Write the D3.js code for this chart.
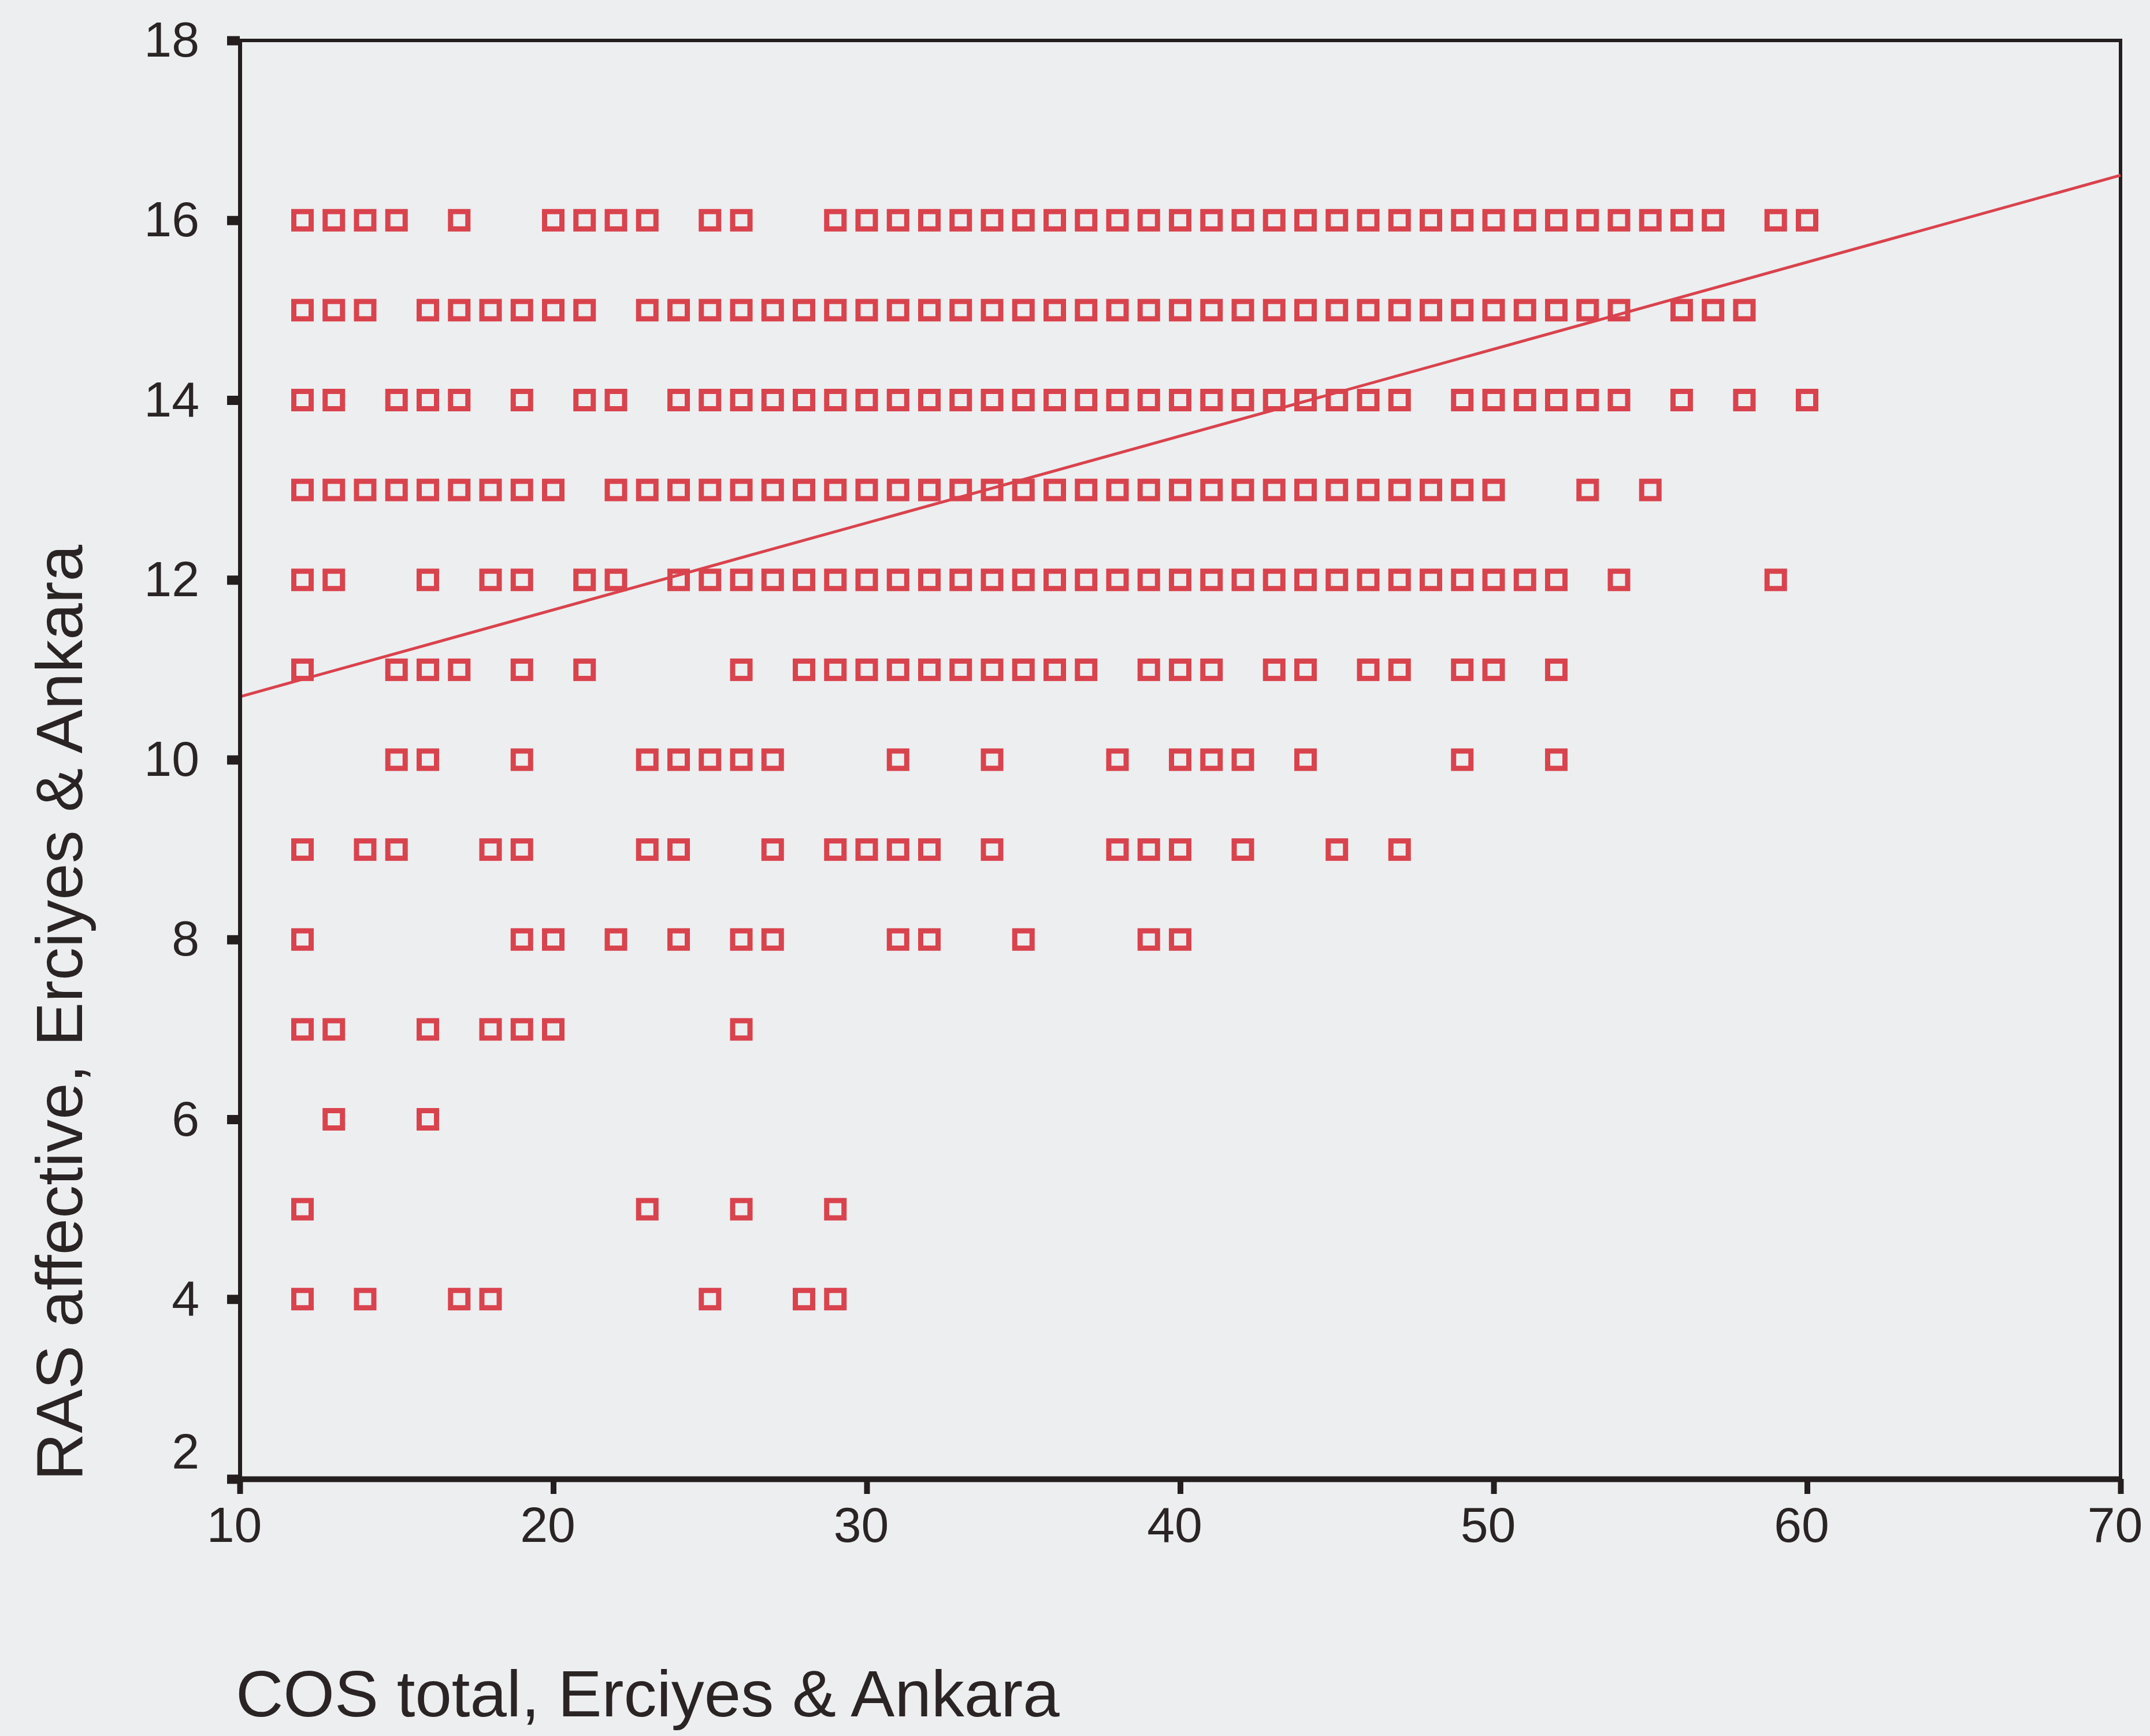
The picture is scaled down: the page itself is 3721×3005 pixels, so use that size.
<!DOCTYPE html>
<html>
<head>
<meta charset="utf-8">
<title>RAS affective by COS total</title>
<script src="https://cdn.jsdelivr.net/npm/d3@7"></script>
<style>
	html, body { margin: 0; padding: 0; background: #edeef0; }
	svg { display: block; }
	text { font-family: "Liberation Sans", Arial, sans-serif; fill: #2a2424; }
</style>
</head>
<body>
<div id="chart"></div>
<script>
	// RAS affective levels (y) and the COS totals (x) seen at each level
	var rasLevels = [16, 15, 14, 13, 12, 11, 10, 9, 8, 7, 6, 5, 4];

	var cosAt16 = [12, 13, 14, 15, 17, 20, 21, 22, 23, 25, 26, 29, 30, 31, 32, 33, 34, 35, 36, 37, 38, 39, 40, 41, 42, 43, 44, 45, 46, 47, 48, 49, 50, 51, 52, 53, 54, 55, 56, 57, 59, 60];
	var cosAt15 = [12, 13, 14, 16, 17, 18, 19, 20, 21, 23, 24, 25, 26, 27, 28, 29, 30, 31, 32, 33, 34, 35, 36, 37, 38, 39, 40, 41, 42, 43, 44, 45, 46, 47, 48, 49, 50, 51, 52, 53, 54, 56, 57, 58];
	var cosAt14 = [12, 13, 15, 16, 17, 19, 21, 22, 24, 25, 26, 27, 28, 29, 30, 31, 32, 33, 34, 35, 36, 37, 38, 39, 40, 41, 42, 43, 44, 45, 46, 47, 49, 50, 51, 52, 53, 54, 56, 58, 60];
	var cosAt13 = [12, 13, 14, 15, 16, 17, 18, 19, 20, 22, 23, 24, 25, 26, 27, 28, 29, 30, 31, 32, 33, 34, 35, 36, 37, 38, 39, 40, 41, 42, 43, 44, 45, 46, 47, 48, 49, 50, 53, 55];
	var cosAt12 = [12, 13, 16, 18, 19, 21, 22, 24, 25, 26, 27, 28, 29, 30, 31, 32, 33, 34, 35, 36, 37, 38, 39, 40, 41, 42, 43, 44, 45, 46, 47, 48, 49, 50, 51, 52, 54, 59];
	var cosAt11 = [12, 15, 16, 17, 19, 21, 26, 28, 29, 30, 31, 32, 33, 34, 35, 36, 37, 39, 40, 41, 43, 44, 46, 47, 49, 50, 52];
	var cosAt10 = [15, 16, 19, 23, 24, 25, 26, 27, 31, 34, 38, 40, 41, 42, 44, 49, 52];
	var cosAt9 = [12, 14, 15, 18, 19, 23, 24, 27, 29, 30, 31, 32, 34, 38, 39, 40, 42, 45, 47];
	var cosAt8 = [12, 19, 20, 22, 24, 26, 27, 31, 32, 35, 39, 40];
	var cosAt7 = [12, 13, 16, 18, 19, 20, 26];
	var cosAt6 = [13, 16];
	var cosAt5 = [12, 23, 26, 29];
	var cosAt4 = [12, 14, 17, 18, 25, 28, 29];

	var cosRows = [cosAt16, cosAt15, cosAt14, cosAt13, cosAt12, cosAt11, cosAt10, cosAt9, cosAt8, cosAt7, cosAt6, cosAt5, cosAt4];

	// fitted line, read at both ends of the x axis
	var fitLine = [{cos: 10, ras: 10.7}, {cos: 70, ras: 16.5}];

	var xTicks = [10, 20, 30, 40, 50, 60, 70];
	var yTicks = [2, 4, 6, 8, 10, 12, 14, 16, 18];

	var xTitle = "COS total, Erciyes & Ankara";
	var yTitle = "RAS affective, Erciyes & Ankara";

	var width = 3721, height = 3005;
	var plotLeft = 415, plotRight = 3670, plotTop = 70, plotBottom = 2560;
	var ink = "#241e1e", red = "#d9434d";

	var points = [];
	rasLevels.forEach(function(r, i){
		cosRows[i].forEach(function(c){ points.push({cos: c, ras: r}); });
	});

	var x = d3.scaleLinear().domain([10, 70]).range([plotLeft, plotRight]);
	var y = d3.scaleLinear().domain([2, 18]).range([plotBottom, plotTop]);

	var svg = d3.select("#chart").append("svg")
		.attr("width", width).attr("height", height);

	// frame (top and right)
	svg.append("path")
		.attr("d", "M" + plotLeft + "," + plotTop + "H" + plotRight + "V" + plotBottom)
		.attr("fill", "none").attr("stroke", ink).attr("stroke-width", 6);

	// points
	var side = 30;
	svg.append("g").selectAll("rect").data(points).enter().append("rect")
		.attr("x", function(d){ return x(d.cos) - side / 2; })
		.attr("y", function(d){ return y(d.ras) - side / 2; })
		.attr("width", side).attr("height", side)
		.attr("fill", "none").attr("stroke", red).attr("stroke-width", 9);

	// fit line
	var line = d3.line().x(function(d){ return x(d.cos); }).y(function(d){ return y(d.ras); });
	svg.append("path").datum(fitLine)
		.attr("d", line)
		.attr("fill", "none").attr("stroke", red).attr("stroke-width", 5);

	// axes
	var gx = svg.append("g").attr("transform", "translate(0," + plotBottom + ")")
		.call(d3.axisBottom(x).tickValues(xTicks).tickSizeInner(26).tickSizeOuter(0).tickPadding(22));
	var gy = svg.append("g").attr("transform", "translate(" + plotLeft + ",0)")
		.call(d3.axisLeft(y).tickValues(yTicks).tickSizeInner(22).tickSizeOuter(0).tickPadding(48));

	gx.attr("font-family", null);
	gy.attr("font-family", null);
	gx.select(".domain").attr("stroke", ink).attr("stroke-width", 10);
	gy.select(".domain").attr("stroke", ink).attr("stroke-width", 7);
	gx.selectAll(".tick line").attr("stroke", ink).attr("stroke-width", 10);
	gy.selectAll(".tick line").attr("stroke", ink).attr("stroke-width", 16);
	gx.selectAll(".tick text").attr("font-size", 86).attr("dx", -10).attr("fill", ink);
	gy.selectAll(".tick text").attr("font-size", 86).attr("fill", ink);
	gy.selectAll(".tick").filter(function(d){ return d === 2; })
		.select("text").attr("dy", "-0.22em");

	// titles
	svg.append("text")
		.attr("x", 408).attr("y", 2971)
		.attr("font-size", 114)
		.text(xTitle);

	svg.append("text")
		.attr("transform", "translate(142,2563) rotate(-90)")
		.attr("font-size", 114)
		.text(yTitle);
</script>
</body>
</html>
